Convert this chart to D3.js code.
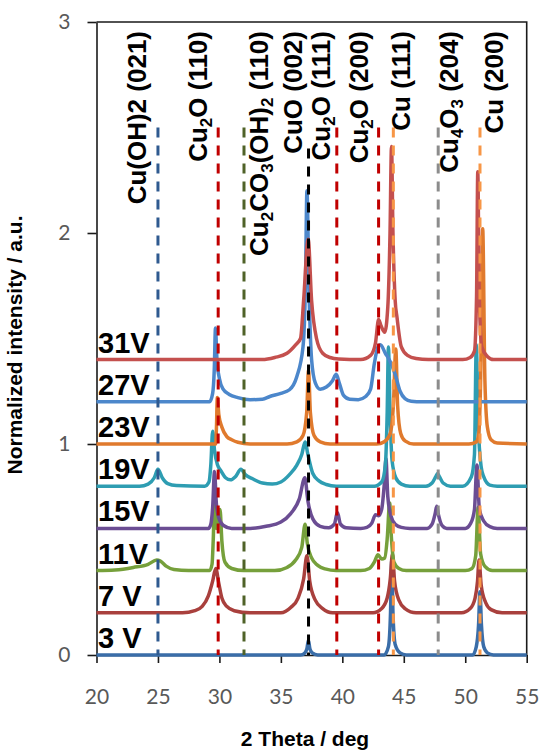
<!DOCTYPE html>
<html><head><meta charset="utf-8">
<script src="https://cdn.jsdelivr.net/npm/d3@7"></script>
<style>body{margin:0;background:#fff}svg{display:block}</style>
</head><body>
<svg id="chart" width="539" height="752"></svg>
<script>
// ---------- data ----------
const xTicks = [20, 25, 30, 35, 40, 45, 50, 55];
const yTicks = [0, 1, 2, 3];
const seriesNames = ["3 V", "7 V", "11V", "15V", "19V", "23V", "27V", "31V"];
const offsets = [0, 0.2, 0.4, 0.6, 0.8, 1.0, 1.2, 1.4];
const seriesColors = ["#3A6DA8", "#A9403D", "#76A03B", "#6B4D93", "#2E9DB2", "#E07A2D", "#4C87CB", "#C4504E"];

const s3V = [[20,0],[36.6,0],[36.95,0.01],[37.12,0.03],[37.24,0.07],[37.36,0.03],[37.55,0.01],[38,0],
  [43.4,0],[43.75,0.04],[43.92,0.2],[44.02,0.45],[44.12,0.2],[44.3,0.05],[44.7,0.01],[45.2,0],
  [50.6,0],[50.9,0.04],[51.08,0.14],[51.2,0.3],[51.32,0.14],[51.5,0.04],[51.8,0.01],[52.3,0],[55,0]];
const s7V = [[20,0],[27,0],[28,0.01],[28.6,0.03],[29.1,0.08],[29.45,0.15],[29.7,0.21],[29.95,0.14],[30.2,0.07],[30.6,0.03],[31.2,0.01],[32.5,0],
  [35,0],[35.8,0.025],[36.4,0.07],[36.85,0.16],[37.12,0.27],[37.35,0.15],[37.8,0.06],[38.4,0.02],[39.2,0],
  [42.5,0],[43.2,0.02],[43.65,0.07],[43.9,0.16],[44.08,0.28],[44.25,0.15],[44.6,0.06],[45.1,0.02],[46,0],
  [49.7,0],[50.4,0.02],[50.8,0.07],[51.0,0.15],[51.12,0.25],[51.3,0.13],[51.65,0.05],[52.1,0.015],[53,0],[55,0]];
const s11V = [[20,0],[21.5,0.003],[23,0.015],[24.2,0.03],[24.9,0.05],[25.2,0.045],[25.7,0.02],[26.3,0.005],[27.5,0],
  [29.2,0],[29.4,0.03],[29.5,0.15],[29.6,0.32],[29.75,0.2],[29.9,0.24],[30.05,0.29],[30.2,0.14],[30.45,0.04],[31,0.01],[32,0],
  [34.5,0],[35.5,0.015],[36.2,0.05],[36.7,0.11],[36.97,0.22],[37.15,0.13],[37.5,0.06],[38,0.025],[38.6,0.008],[39.5,0],
  [41.5,0],[42.2,0.01],[42.6,0.04],[42.9,0.075],[43.2,0.055],[43.45,0.06],[43.65,0.15],[43.85,0.32],[44.0,0.15],[44.2,0.04],[44.6,0.01],[45.2,0],
  [50,0],[50.55,0.01],[50.85,0.07],[51.05,0.3],[51.25,0.08],[51.6,0.02],[52.2,0],[55,0]];
const s15V = [[20,0],[29.1,0],[29.3,0.02],[29.45,0.1],[29.6,0.27],[29.75,0.12],[29.95,0.05],[30.3,0.015],[31,0],
  [32.5,0],[33.8,0.01],[35,0.03],[35.8,0.07],[36.5,0.14],[36.95,0.24],[37.2,0.13],[37.6,0.045],[38.2,0.01],[38.9,0.003],[39.35,0.02],[39.6,0.075],[39.85,0.02],[40.3,0.003],[41.5,0],
  [42.0,0.005],[42.4,0.025],[42.7,0.065],[42.95,0.06],[43.2,0.09],[43.4,0.2],[43.55,0.33],[43.7,0.15],[43.95,0.06],[44.3,0.02],[44.8,0.005],[45.5,0],
  [46.9,0],[47.3,0.02],[47.55,0.07],[47.68,0.105],[47.8,0.07],[48.1,0.015],[48.5,0],
  [50,0],[50.45,0.025],[50.75,0.09],[50.95,0.3],[51.15,0.09],[51.5,0.035],[52,0.008],[52.6,0],[55,0]];
const s19V = [[20,0],[23.5,0],[24.2,0.01],[24.7,0.04],[25.0,0.08],[25.35,0.04],[25.8,0.012],[26.5,0.003],[28.8,0],
  [29.15,0.02],[29.3,0.1],[29.45,0.26],[29.6,0.17],[29.85,0.1],[30.1,0.075],[30.5,0.04],[30.9,0.03],[31.3,0.045],[31.75,0.08],[32.1,0.055],[32.7,0.035],[33.5,0.015],[34.3,0.01],
  [35,0.02],[35.7,0.055],[36.3,0.1],[36.7,0.15],[36.97,0.21],[37.2,0.15],[37.6,0.06],[38.1,0.025],[38.7,0.008],[39.5,0],
  [42.6,0],[43.2,0.02],[43.5,0.1],[43.65,0.35],[43.75,0.66],[43.88,0.35],[44.05,0.12],[44.35,0.04],[44.8,0.01],[45.5,0],
  [46.8,0],[47.3,0.015],[47.6,0.045],[47.75,0.06],[47.9,0.045],[48.2,0.015],[48.8,0],
  [49.8,0],[50.5,0.045],[50.75,0.15],[50.9,0.67],[51.05,0.3],[51.3,0.09],[51.5,0.045],[52.0,0.005],[52.6,0],[55,0]];
const s23V = [[20,0],[29.7,0],[29.76,0.08],[29.83,0.22],[29.95,0.14],[30.2,0.08],[30.6,0.035],[31,0.02],[31.5,0.008],[32.5,0],
  [35.5,0],[36.3,0.01],[36.8,0.04],[37.1,0.15],[37.25,0.35],[37.4,0.15],[37.7,0.04],[38.2,0.01],[39,0],
  [42.8,0],[43.4,0.01],[43.9,0.05],[44.15,0.18],[44.35,0.45],[44.5,0.18],[44.75,0.05],[45.1,0.015],[45.8,0],
  [50.3,0],[50.9,0.01],[51.1,0.05],[51.25,0.3],[51.42,1.02],[51.6,0.3],[51.8,0.08],[52.1,0.02],[52.6,0.005],[55,0]];
const s27V = [[20,0],[29.2,0],[29.45,0.04],[29.58,0.15],[29.68,0.35],[29.8,0.2],[30.0,0.11],[30.3,0.06],[30.8,0.035],[31.5,0.02],[32.5,0.01],[33.5,0.012],
  [34.1,0.025],[35.0,0.04],[35.7,0.057],[36.3,0.12],[36.8,0.26],[37.0,0.55],[37.12,1.0],[37.3,0.5],[37.5,0.2],[37.8,0.09],[38.2,0.06],[38.7,0.07],[39.2,0.1],[39.5,0.13],[39.75,0.09],[40.1,0.03],[40.6,0.012],[41.3,0.01],
  [41.9,0.025],[42.3,0.06],[42.6,0.18],[42.9,0.26],[43.1,0.27],[43.5,0.23],[43.9,0.19],[44.3,0.13],[44.7,0.05],[45.1,0.015],[45.6,0.003],[46.5,0],[55,0]];
const s31V = [[20,0],[33.5,0],[34.5,0.01],[35.5,0.03],[36.2,0.07],[36.6,0.1],[36.85,0.28],[37.22,0.57],[37.5,0.28],[37.9,0.1],[38.4,0.03],[39,0.01],[39.7,0.003],
  [41.5,0],[42.3,0.02],[42.7,0.08],[42.95,0.19],[43.15,0.16],[43.45,0.13],[43.7,0.25],[43.88,0.6],[44.0,1.01],[44.12,0.6],[44.3,0.28],[44.45,0.2],[44.8,0.06],[45.3,0.02],[46,0.005],[47,0],
  [49.8,0],[50.4,0.01],[50.75,0.04],[50.92,0.3],[51.02,0.89],[51.14,0.3],[51.35,0.06],[51.8,0.015],[52.3,0],[55,0]];
const seriesData = [s3V, s7V, s11V, s15V, s19V, s23V, s27V, s31V];

const refPositions = [25.0, 29.9, 32.0, 37.25, 39.55, 42.95, 44.15, 47.8, 51.2];
const refColors = ["#2F5A90", "#C00000", "#4F6228", "#000000", "#C00000", "#C00000", "#F79646", "#8C8C8C", "#F79646"];
const refTop = [2.5, 2.5, 2.5, 2.4, 2.5, 2.5, 2.5, 2.5, 2.5];
const labelPositions = [24.06, 28.99, 33.95, 36.72, 39.0, 42.09, 45.5, 49.41, 53.07];
const labelParts = [
  [["Cu(OH)2 (021)",0]],
  [["Cu",0],["2",1],["O (110)",0]],
  [["Cu",0],["2",1],["CO",0],["3",1],["(OH)",0],["2",1],[" (110)",0]],
  [["CuO (002)",0]],
  [["Cu",0],["2",1],["O (111)",0]],
  [["Cu",0],["2",1],["O (200)",0]],
  [["Cu (111)",0]],
  [["Cu",0],["4",1],["O",0],["3",1],[" (204)",0]],
  [["Cu (200)",0]]
];

// ---------- drawing ----------
const svg = d3.select("#chart");
const x = d3.scaleLinear().domain([20, 55]).range([96.5, 526.7]);
const y = d3.scaleLinear().domain([0, 3]).range([655, 22]);

// axes
const xAxis = svg.append("g").attr("transform", `translate(0,${y(0)})`)
  .call(d3.axisBottom(x).tickValues(xTicks).tickFormat(d3.format("d")).tickSize(8).tickSizeOuter(0).tickPadding(26));
const yAxis = svg.append("g").attr("transform", `translate(${x(20)},0)`)
  .call(d3.axisLeft(y).tickValues(yTicks).tickFormat(d3.format("d")).tickSize(9).tickSizeOuter(0).tickPadding(17));
[xAxis, yAxis].forEach(a => {
  a.selectAll("path").attr("stroke", "#1a1a1a").attr("stroke-width", 1.6);
  a.selectAll("line").attr("stroke", "#1a1a1a").attr("stroke-width", 1.6);
  a.selectAll("text").attr("fill", "#595959").style("font-family", "Lato, 'Open Sans', sans-serif").style("font-size", "21px");
});
// frame top/right
svg.append("path")
  .attr("d", `M${x(20)},${y(3)}H${x(55)}V${y(0)}`)
  .attr("fill", "none").attr("stroke", "#1a1a1a").attr("stroke-width", 1.6);

// series
const line = d3.line().x(d => x(d[0])).curve(d3.curveMonotoneX);
seriesData.forEach((data, i) => {
  svg.append("path")
    .attr("d", line.y(d => y(d[1] + offsets[i]))(data))
    .attr("fill", "none")
    .attr("stroke", seriesColors[i])
    .attr("stroke-width", 3.5)
    .attr("stroke-linejoin", "round");
});

// reference dashed lines
refPositions.forEach((p, i) => {
  svg.append("line")
    .attr("x1", x(p)).attr("x2", x(p))
    .attr("y1", y(refTop[i])).attr("y2", y(0))
    .attr("stroke", refColors[i]).attr("stroke-width", 3)
    .attr("stroke-dasharray", "10,8");
});

// series labels
seriesNames.forEach((n, i) => {
  svg.append("text")
    .attr("x", 98).attr("y", y(offsets[i]) - 7)
    .style("font-family", "'Liberation Sans', Arial, sans-serif")
    .style("font-weight", "bold").style("font-size", "29px")
    .attr("fill", "#000").text(n);
});

// peak labels (rotated)
labelPositions.forEach((p, i) => {
  const t = svg.append("text")
    .attr("transform", `translate(${x(p)},31) rotate(-90)`)
    .attr("text-anchor", "end")
    .style("font-family", "'Liberation Sans', Arial, sans-serif")
    .style("font-weight", "bold").style("font-size", "26px")
    .attr("fill", "#000");
  let shifted = false;
  labelParts[i].forEach(([s, sub]) => {
    const ts = t.append("tspan").text(s);
    if (sub && !shifted) { ts.attr("dy", 5).style("font-size", "17px"); shifted = true; }
    else if (sub && shifted) { ts.style("font-size", "17px"); }
    else if (!sub && shifted) { ts.attr("dy", -5); shifted = false; }
  });
});

// axis titles
svg.append("text")
  .attr("x", 305).attr("y", 746).attr("text-anchor", "middle")
  .style("font-family", "'Liberation Sans', Arial, sans-serif")
  .style("font-weight", "bold").style("font-size", "21px")
  .attr("fill", "#000").text("2 Theta / deg");
svg.append("text")
  .attr("transform", "translate(22,345) rotate(-90)").attr("text-anchor", "middle")
  .style("font-family", "'Liberation Sans', Arial, sans-serif")
  .style("font-weight", "bold").style("font-size", "21px")
  .attr("fill", "#000").text("Normalized intensity / a.u.");
</script>
</body></html>
